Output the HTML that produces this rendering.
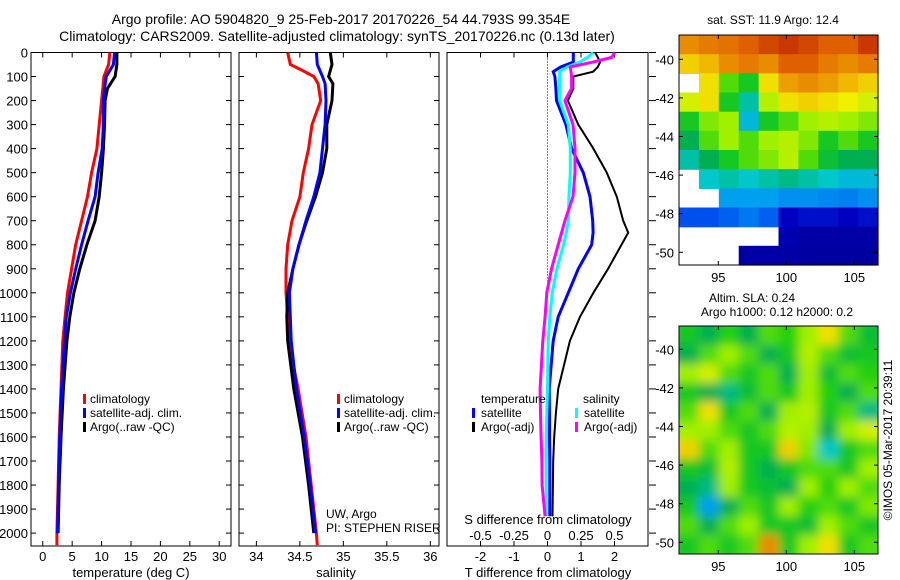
<!DOCTYPE html>
<html><head><meta charset="utf-8">
<style>
html,body{margin:0;padding:0;background:#fff;}
svg{display:block;font-family:"Liberation Sans",sans-serif;}
text{fill:#000;}
</style></head>
<body>
<svg id="fig" width="900" height="580" viewBox="0 0 900 580" xmlns="http://www.w3.org/2000/svg">
<defs>
<clipPath id="clipSla"><rect x="679" y="326" width="199" height="228"/></clipPath>
<filter id="blur" x="-5%" y="-5%" width="110%" height="110%"><feGaussianBlur stdDeviation="5"/></filter>
</defs>
<text x="341" y="24" font-size="14" text-anchor="middle">Argo profile: AO 5904820_9 25-Feb-2017 20170226_54 44.793S 99.354E</text>
<text x="337" y="41" font-size="14" text-anchor="middle">Climatology: CARS2009. Satellite-adjusted climatology: synTS_20170226.nc (0.13d later)</text>
<text x="773" y="24" font-size="12" text-anchor="middle">sat. SST: 11.9 Argo: 12.4</text>
<text x="752" y="302" font-size="12" text-anchor="middle">Altim. SLA: 0.24</text>
<text x="777" y="316" font-size="12" text-anchor="middle">Argo h1000: 0.12 h2000: 0.2</text>
<text transform="translate(892,440) rotate(-90)" font-size="12" text-anchor="middle">©IMOS 05-Mar-2017 20:39:11</text>
<g id="layer"></g>
</svg>
<script>
// ---- profile data ----
const tDepth=[0,50,100,150,200,300,400,500,600,700,800,900,1000,1100,1200,1400,1600,1800,2000,2050];
const tClim=[11.4,11.2,10.4,10.2,10.0,9.6,9.2,8.3,7.6,6.6,5.6,4.9,4.2,3.8,3.4,3.1,2.8,2.6,2.4,2.4];
const tSat=[12.2,12.0,10.8,10.5,10.3,10.3,10.1,9.4,8.9,7.7,6.6,5.6,4.7,4.0,3.7,3.2,2.9,2.7,2.5,null];
const tArgo=[12.6,12.6,12.3,11.0,10.6,10.5,10.3,10.0,9.6,8.9,7.5,6.3,5.3,4.6,4.1,3.5,3.1,2.8,2.6,null];
const sDepth=[0,50,75,100,130,200,300,400,500,600,700,800,900,1000,1100,1200,1400,1600,1800,2000,2050];
const sClim=[34.36,34.39,34.53,34.66,34.71,34.74,34.64,34.60,34.54,34.50,34.41,34.36,34.34,34.34,34.36,34.37,34.48,34.57,34.63,34.69,34.70];
const sSat=[34.69,34.70,34.73,34.76,34.79,34.80,34.79,34.76,34.73,34.66,34.57,34.49,34.42,34.38,34.39,34.40,34.46,34.55,34.62,34.68,null];
const sArgo=[34.85,34.87,34.85,34.83,34.88,34.87,34.81,34.81,34.76,34.68,34.58,34.49,34.42,34.36,34.35,34.36,34.43,34.53,34.60,34.66,null];
const dDepth=[0,20,40,60,80,100,150,200,300,400,500,600,700,750,800,900,1000,1100,1200,1400,1500,1600,1700,1800,1930];
const dTSat=[0.77,0.77,0.77,0.4,0.17,0.22,0.25,0.27,0.55,0.72,1.07,1.27,1.35,1.36,1.32,0.92,0.62,0.32,0.17,0.05,0.06,0.06,0.07,0.07,0.07];
const dTArgo=[1.42,1.5,1.57,1.5,1.36,0.77,0.77,0.61,0.92,1.37,1.77,2.07,2.26,2.41,2.21,1.81,1.37,0.97,0.67,0.32,0.25,0.2,0.17,0.16,0.15];
const dSSat=[0.34,0.3,0.24,0.15,0.09,0.09,0.09,0.09,0.155,0.17,0.17,0.16,0.155,0.14,0.12,0.07,0.035,0.018,0.005,0,-0.005,-0.008,-0.01,-0.01,-0.01];
const dSArgo=[0.5,0.48,0.34,0.17,0.175,0.18,0.18,0.13,0.19,0.205,0.205,0.19,0.13,0.105,0.08,0.03,-0.005,-0.018,-0.035,-0.055,-0.052,-0.048,-0.042,-0.04,-0.018];
const depthTicks=[0,100,200,300,400,500,600,700,800,900,1000,1100,1200,1300,1400,1500,1600,1700,1800,1900,2000];
const tempTicks=[0,5,10,15,20,25,30];
const salTicks=[34,34.5,35,35.5,36];
const salTickLabels=["34","34.5","35","35.5","36"];
const dTTicks=[-2,-1,0,1,2];
const dSTicks=[-0.5,-0.25,0,0.25,0.5];
const dSTickLabels=["-0.5","-0.25","0","0.25","0.5"];
// ---- map data (jet-like index 0..1, -1 = no data) ----
const sstGrid=[
[0.80,0.82,0.83,0.85,0.88,0.90,0.88,0.85,0.85,0.90],
[0.72,0.75,0.80,0.82,0.80,0.85,0.85,0.82,0.80,0.82],
[-1,0.70,0.55,0.50,0.70,0.78,0.80,0.78,0.75,0.72],
[0.65,0.70,0.50,0.40,0.62,0.70,0.72,0.70,0.68,0.65],
[0.50,0.58,0.60,0.35,0.50,0.55,0.60,0.62,0.60,0.58],
[0.45,0.55,0.60,0.55,0.60,0.62,0.58,0.50,0.55,0.50],
[0.40,0.45,0.50,0.55,0.58,0.62,0.55,0.48,0.45,0.45],
[-1,0.38,0.40,0.38,0.40,0.42,0.40,0.38,0.35,0.35],
[-1,-1,0.30,0.30,0.30,0.28,0.28,0.27,0.26,0.28],
[0.20,0.20,0.22,0.25,0.22,0.10,0.12,0.12,0.10,0.12],
[-1,-1,-1,-1,-1,0.08,0.06,0.06,0.06,0.06],
[-1,-1,-1,0.06,0.06,0.06,0.05,0.05,0.05,0.05]];
const slaGrid=[
[0.50,0.45,0.52,0.45,0.55,0.52,0.60,0.70,0.55,0.48],
[0.45,0.55,0.60,0.55,0.45,0.50,0.62,0.55,0.48,0.50],
[0.60,0.65,0.55,0.50,0.55,0.45,0.60,0.48,0.55,0.52],
[0.50,0.45,0.42,0.48,0.55,0.50,0.60,0.52,0.45,0.55],
[0.55,0.70,0.50,0.55,0.45,0.60,0.62,0.50,0.55,0.42],
[0.60,0.60,0.55,0.50,0.55,0.62,0.60,0.45,0.60,0.65],
[0.72,0.55,0.60,0.50,0.50,0.72,0.58,0.38,0.50,0.55],
[0.50,0.48,0.62,0.50,0.45,0.50,0.55,0.55,0.50,0.60],
[0.45,0.42,0.60,0.50,0.48,0.45,0.60,0.52,0.60,0.55],
[0.50,0.30,0.45,0.55,0.50,0.60,0.52,0.55,0.50,0.58],
[0.55,0.45,0.55,0.60,0.50,0.50,0.48,0.60,0.55,0.50],
[0.50,0.55,0.50,0.55,0.80,0.50,0.60,0.70,0.50,0.55]];
const latTicks=[-40,-42,-44,-46,-48,-50];
const lonTicks=[95,100,105];

const NS="http://www.w3.org/2000/svg";
const layer=document.getElementById('layer');
function mk(tag,attrs,parent){const e=document.createElementNS(NS,tag);for(const k in attrs)e.setAttribute(k,attrs[k]);(parent||layer).appendChild(e);return e;}
const TOP=52.5,BOT=546;
function yD(d){return TOP+d*0.2403;}
function lin(v0,v1,p0,p1){return v=>p0+(v-v0)*(p1-p0)/(v1-v0);}
const xT=lin(-2,32,31,231);
const xS=lin(33.8,36.1,239,439);
const xDT=lin(-3,3,447,648);
const xDS=v=>xDT(v*4);

function drawLine(xf,vals,depths,color,w,name){
  const pts=[];
  for(let i=0;i<vals.length;i++){if(vals[i]===null)continue;pts.push(xf(vals[i]).toFixed(1)+','+yD(depths[i]).toFixed(1));}
  const p=mk('polyline',{points:pts.join(' '),fill:'none',stroke:color,'stroke-width':w,'stroke-linejoin':'miter'});
  
  
}
function box(x0,x1,name){
  const r=mk('rect',{x:x0,y:TOP,width:x1-x0,height:BOT-TOP,fill:'none',stroke:'#000','stroke-width':1});
  
  
}
function txt(x,y,s,size,anchor,name){
  const t=mk('text',{x:x,y:y,'font-size':size,'text-anchor':anchor||'start'});t.textContent=s;
  
  
  return t;
}
function tick(x1,y1,x2,y2,name){
  const l=mk('line',{x1:x1,y1:y1,x2:x2,y2:y2,stroke:'#000','stroke-width':1});
  
  
}
depthTicks.forEach(d=>{
  const y=yD(d);
  txt(28,y+5,String(d),13,'end','depth-tick-label');
  [[31,36],[231,226],[239,244],[439,434]].forEach(a=>tick(a[0],y,a[1],y,'depth-tick'));
  tick(649,y,656,y,'depth-tick-right');
});
box(31,231,'temperature-panel');
tempTicks.forEach(v=>{const x=xT(v);tick(x,BOT,x,BOT-5,'temp-tick');tick(x,TOP,x,TOP+5,'temp-tick');txt(x,561,String(v),13,'middle','temp-tick-label');});
txt(131,577,'temperature (deg C)',13,'middle','temperature-axis-title');
drawLine(xT,tClim,tDepth,'#f00',3,'temp-climatology-line');
drawLine(xT,tArgo,tDepth,'#000',3,'temp-argo-line');
drawLine(xT,tSat,tDepth,'#00f',3,'temp-satellite-line');
box(239,439,'salinity-panel');
salTicks.forEach((v,i)=>{const x=xS(v);tick(x,BOT,x,BOT-5,'sal-tick');tick(x,TOP,x,TOP+5,'sal-tick');txt(x,561,salTickLabels[i],13,'middle','sal-tick-label');});
txt(336,577,'salinity',13,'middle','salinity-axis-title');
drawLine(xS,sClim,sDepth,'#f00',3,'sal-climatology-line');
drawLine(xS,sArgo,sDepth,'#000',3,'sal-argo-line');
drawLine(xS,sSat,sDepth,'#00f',3,'sal-satellite-line');
txt(326,518,'UW, Argo',12,'start','pi-institution');
txt(326,532,'PI: STEPHEN RISER',12,'start','pi-name');
[[83,'legend-p1'],[337,'legend-p2']].forEach(L=>{
  [['#f00','climatology'],['#00f','satellite-adj. clim.'],['#000','Argo(..raw -QC)']].forEach((e,i)=>{
    const r=mk('rect',{x:L[0],y:394+i*14,width:3,height:10,fill:e[0]});
    
    
    txt(L[0]+7,403+i*14,e[1],12,'start','legend-entry');
  });
});
box(447,648,'difference-panel');
dTTicks.forEach(v=>{const x=xDT(v);tick(x,BOT,x,BOT-5,'dT-tick');tick(x,TOP,x,TOP+5,'dT-tick');txt(x,561,String(v),13,'middle','dT-tick-label');});
dSTicks.forEach((v,i)=>{txt(xDS(v),540,dSTickLabels[i],13,'middle','dS-tick-label');});
txt(548,524,'S difference from climatology',13,'middle','S-diff-axis-title');
txt(548,577,'T difference from climatology',13,'middle','T-diff-axis-title');
const zl=mk('line',{x1:xDT(0),y1:TOP,x2:xDT(0),y2:yD(1000),stroke:'#000','stroke-width':1,'stroke-dasharray':'1,2'});


drawLine(xDT,dTArgo,dDepth,'#000',2,'dT-argo-line');
drawLine(xDT,dTSat,dDepth,'#00f',3,'dT-satellite-line');
drawLine(xDS,dSSat,dDepth,'#0ff',3,'dS-satellite-line');
drawLine(xDS,dSArgo,dDepth,'#f0f',3,'dS-argo-line');
txt(481,403,'temperature',12,'start','legend-temperature-header');
txt(583,403,'salinity',12,'start','legend-salinity-header');
[[472,'#00f','satellite',0],[472,'#000','Argo(-adj)',1],[575,'#0ff','satellite',0],[575,'#f0f','Argo(-adj)',1]].forEach(e=>{
  const r=mk('rect',{x:e[0],y:408+e[3]*14,width:3,height:10,fill:e[1]});
  
  
  txt(e[0]+9,417+e[3]*14,e[2],12,'start','legend-entry');
});
const stops=[[0,[0,0,128]],[0.1,[0,0,192]],[0.2,[0,80,240]],[0.3,[0,160,240]],[0.38,[0,200,200]],[0.45,[0,176,80]],[0.52,[32,208,16]],[0.6,[160,240,0]],[0.68,[240,240,0]],[0.76,[240,176,0]],[0.85,[224,96,0]],[0.95,[176,16,0]],[1,[150,0,0]]];
function cmap(v){for(let i=1;i<stops.length;i++){if(v<=stops[i][0]){const a=stops[i-1],b=stops[i],t=(v-a[0])/(b[0]-a[0]);return 'rgb('+a[1].map((c,k)=>Math.round(c+(b[1][k]-c)*t)).join(',')+')';}}return 'rgb(150,0,0)';}
function drawMap(grid,x0,x1,y0,y1,latY,name,blur){
  const g=mk('g',{});
  
  
  let inner=g;
  if(blur){const c=mk('g',{'clip-path':'url(#clipSla)'},g);inner=mk('g',{filter:'url(#blur)'},c);}
  const rows=grid.length,cols=grid[0].length,cw=(x1-x0)/cols,rh=(y1-y0)/rows;
  grid.forEach((row,ri)=>row.forEach((v,ci)=>{
    if(v<0)return;
    const pad=blur?(ri===0||ci===0||ri===rows-1||ci===cols-1?8:0):0;
    const xx=x0+ci*cw-(ci===0?pad:0), yy=y0+ri*rh-(ri===0?pad:0);
    const r=mk('rect',{x:xx.toFixed(1),y:yy.toFixed(1),width:(cw+0.6+(ci===0||ci===cols-1?pad:0)).toFixed(1),height:(rh+0.6+(ri===0||ri===rows-1?pad:0)).toFixed(1),fill:cmap(v)},inner);
    
    
  }));
  const b=mk('rect',{x:x0,y:y0,width:x1-x0,height:y1-y0,fill:'none',stroke:'#000','stroke-width':1});
  
  
  const yl=lin(-40,-50,latY[0],latY[1]);
  latTicks.forEach(v=>{const y=yl(v);tick(x0,y,x0+4,y,'lat-tick');tick(x1,y,x1-4,y,'lat-tick');txt(x0-5,y+5,String(v),13,'end','lat-tick-label');});
  const xl=lin(95,105,718.3,854.3);
  lonTicks.forEach(v=>{const x=xl(v);tick(x,y1,x,y1-4,'lon-tick');tick(x,y0,x,y0+4,'lon-tick');txt(x,y1+17,String(v),13,'middle','lon-tick-label');});
}
drawMap(sstGrid,679,878,35,265,[59.3,252.3],'sst-map',false);
drawMap(slaGrid,679,878,326,554,[349.3,542.3],'sla-map',true);
</script>
</body></html>
